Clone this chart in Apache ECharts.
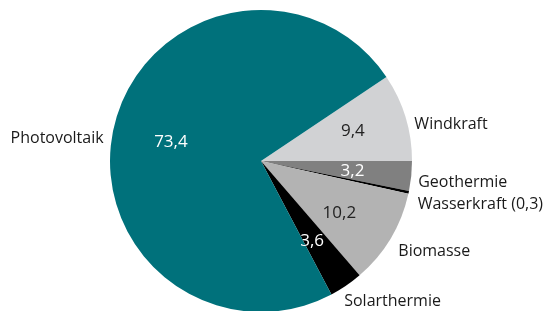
<!DOCTYPE html>
<html>
<head>
<meta charset="utf-8">
<script src="https://cdn.jsdelivr.net/npm/echarts@6/dist/echarts.min.js"></script>
<style>
  html, body { margin: 0; padding: 0; background: #fff; }
  #chart { width: 544px; height: 311px; }
</style>
</head>
<body>
<div id="chart"></div>
<script>
// Anteile in Prozent
var categories = ['Windkraft', 'Geothermie', 'Wasserkraft', 'Biomasse', 'Solarthermie', 'Photovoltaik'];
var values = [9.4, 3.2, 0.3, 10.2, 3.6, 73.4];
var outerNames = ['Windkraft', 'Geothermie', 'Wasserkraft (0,3)', 'Biomasse', 'Solarthermie', 'Photovoltaik'];
var colors = ['#d1d2d4', '#808080', '#000000', '#b3b3b3', '#000000', '#00717b'];
var innerTextColors = ['#222', '#fff', '#fff', '#222', '#fff', '#fff'];
// feinjustierung der aussenbeschriftung
var outerDx = [-2, -4, -2, -3, -12, 0];
var outerDy = [8, 6, 12, 12, 14, 15];

var chartDom = document.getElementById('chart');
var myChart = echarts.init(chartDom);

var fontFamily = 'Open Sans';
var center = [261, 161];

function fmt(v) {
    return String(v).replace('.', ',');
}

var pieData = categories.map(function (c, i) {
    return {
        name: c,
        value: values[i],
        itemStyle: { color: colors[i] },
        label: i === 2 ? { letterSpacing: -0.6 } : {}
    };
});

var innerData = categories.map(function (c, i) {
    return {
        name: c,
        value: values[i],
        label: {
            show: i !== 2,
            color: innerTextColors[i]
        }
    };
});

var option = {
    animation: false,
    series: [
        {
            name: 'Anteil',
            type: 'pie',
            center: center,
            radius: 151,
            startAngle: 33.84,
            clockwise: true,
            silent: true,
            avoidLabelOverlap: false,
            label: {
                show: true,
                position: 'outside',
                formatter: function (p) {
                    return outerNames[p.dataIndex];
                },
                fontFamily: fontFamily,
                fontSize: 16,
                color: '#1a1a1a',
                alignTo: 'none'
            },
            labelLine: { show: false, length: 2, length2: 4 },
            labelLayout: function (p) {
                return { dx: outerDx[p.dataIndex], dy: outerDy[p.dataIndex] };
            },
            itemStyle: { borderWidth: 0 },
            data: pieData
        },
        {
            name: 'Werte',
            type: 'pie',
            center: center,
            radius: [35, 151],
            startAngle: 33.84,
            clockwise: true,
            silent: true,
            avoidLabelOverlap: false,
            itemStyle: { color: 'rgba(0,0,0,0)', borderWidth: 0 },
            label: {
                show: true,
                position: 'inside',
                formatter: function (p) {
                    return fmt(p.value);
                },
                fontFamily: fontFamily,
                fontSize: 17
            },
            labelLine: { show: false },
            labelLayout: function (p) {
                var adj = [[0, -2], [-4, 1], [0, 0], [-4, 3], [-3, 1], [3, 5]];
                return { dx: adj[p.dataIndex][0], dy: adj[p.dataIndex][1] };
            },
            data: innerData
        }
    ]
};

myChart.setOption(option);
</script>
</body>
</html>
